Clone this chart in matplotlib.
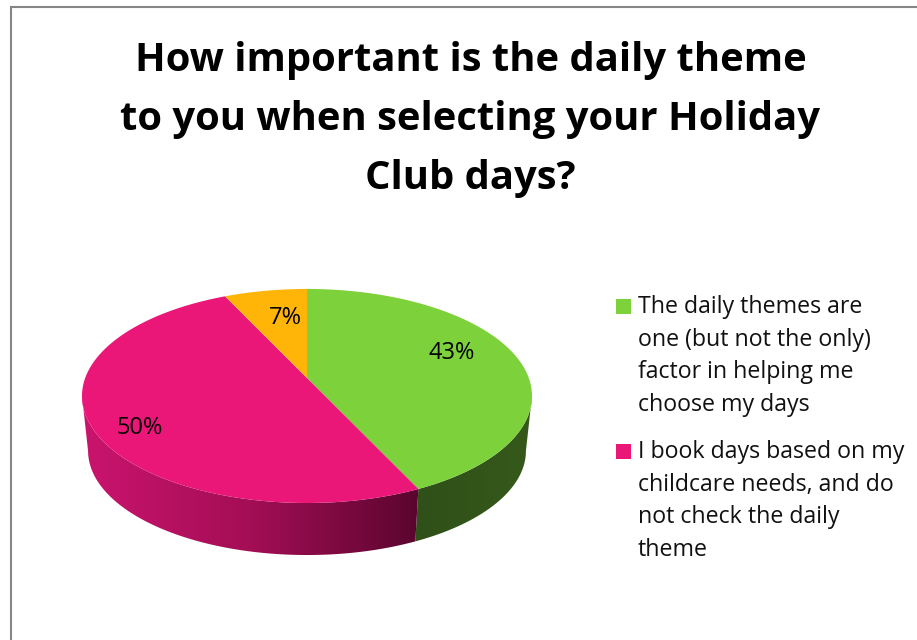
import numpy as np
import matplotlib
matplotlib.use("Agg")
import matplotlib.pyplot as plt
from matplotlib.patches import Polygon, Rectangle
from matplotlib.colors import LinearSegmentedColormap

plt.rcParams['font.family'] = ['Open Sans', 'DejaVu Sans']

title_lines = ["How important is the daily theme",
               "to you when selecting your Holiday",
               "Club days?"]
share_values = [43, 50, 7]
share_labels = ["43%", "50%", "7%"]
slice_colors = ["#7DD13B", "#EA1678", "#FFB508"]
legend_entries = [
    ["The daily themes are", "one (but not the only)", "factor in helping me", "choose my days"],
    ["I book days based on my", "childcare needs, and do", "not check the daily", "theme"],
]

# Tilted-disc projection, in pixels
CX, CY = 307.0, 378.0
TILT = 0.168
SCALE_X, SCALE_Y = 221.8, 104.0
BASE_SHRINK, BASE_DROP = 0.973, 55.4


def top_face(deg):
    """Project clockwise-from-north angles onto the upper face."""
    a = np.radians(deg)
    u, s = np.sin(a), -np.cos(a)
    w = 1 - TILT * s
    return CX + SCALE_X * u / w, CY + SCALE_Y * s / w


def base_face(deg):
    x, y = top_face(deg)
    return CX + BASE_SHRINK * (x - CX), CY + BASE_SHRINK * (y - CY) + BASE_DROP


def wall_outline(start, end):
    """Closed outline of the side wall between two angles."""
    ang = np.linspace(start, end, 200)
    xt, yt = top_face(ang)
    xb, yb = base_face(ang[::-1])
    return np.column_stack([np.r_[xt, xb], np.r_[yt, yb]])


fig = plt.figure(figsize=(9.17, 6.4), dpi=100, facecolor="white")
ax = fig.add_axes([0, 0, 1, 1])
ax.axis("off")

# Outer frame, running off the right and bottom edges
ax.plot([10.5, 10.5, 917], [640, 6.5, 6.5], color="#868686", lw=1.5, solid_joinstyle="miter")

edges = np.concatenate([[0], np.cumsum(share_values)]) * 3.6
x_break = top_face(edges[1])[0]

# The wall is visible between the disc's left and right extremes
sweep = np.linspace(0, 360, 3601)
sweep_x = top_face(sweep)[0]
right_extreme, left_extreme = sweep[np.argmax(sweep_x)], sweep[np.argmin(sweep_x)]

# Side wall: a horizontal gradient per slice, clipped to its outline
pink_wall = LinearSegmentedColormap.from_list("pink_wall", ["#CB146F", "#A30E55", "#5A052E"])
green_wall = LinearSegmentedColormap.from_list("green_wall", ["#2F5018", "#36591B"])
ramp = np.linspace(0, 1, 256).reshape(1, -1)
wall_specs = [(right_extreme, edges[1], green_wall, x_break - 3, 535),
              (edges[1], left_extreme, pink_wall, 80, x_break + 1)]
for start, end, cmap, x0, x1 in wall_specs:
    im = ax.imshow(ramp, cmap=cmap, extent=(x0, x1, 570, 380), aspect="auto", zorder=2)
    clip = Polygon(wall_outline(start, end), closed=True, transform=ax.transData)
    im.set_clip_path(clip)

# Upper face
for start, end, col in zip(edges[:-1], edges[1:], slice_colors):
    x, y = top_face(np.linspace(start, end, 200))
    pts = np.column_stack([np.r_[CX, x], np.r_[CY, y]])
    ax.add_patch(Polygon(pts, closed=True, facecolor=col, edgecolor="none", zorder=3))

ax.set_xlim(0, 917)
ax.set_ylim(640, 0)

# Value labels
label_anchor = [(452, 353), (140, 428), (285, 318)]
for txt, (lx, ly) in zip(share_labels, label_anchor):
    ax.text(lx, ly, txt, fontsize=17, color="black", ha="center", va="center", zorder=4)

# Title
for line, base in zip(title_lines, [71.5, 130, 188.5]):
    ax.text(470.5, base, line, fontsize=28.8, fontweight="bold", color="black",
            ha="center", va="baseline")

# Legend
for block_top, lines, col in zip([299, 444], legend_entries, slice_colors):
    ax.add_patch(Rectangle((616, block_top), 15, 15, facecolor=col, edgecolor="none"))
    for i, line in enumerate(lines):
        ax.text(638, block_top + 14 + i * 32.7, line, fontsize=16.7, color="#111111",
                ha="left", va="baseline")

fig.savefig("out.png", dpi=100, facecolor="white")
